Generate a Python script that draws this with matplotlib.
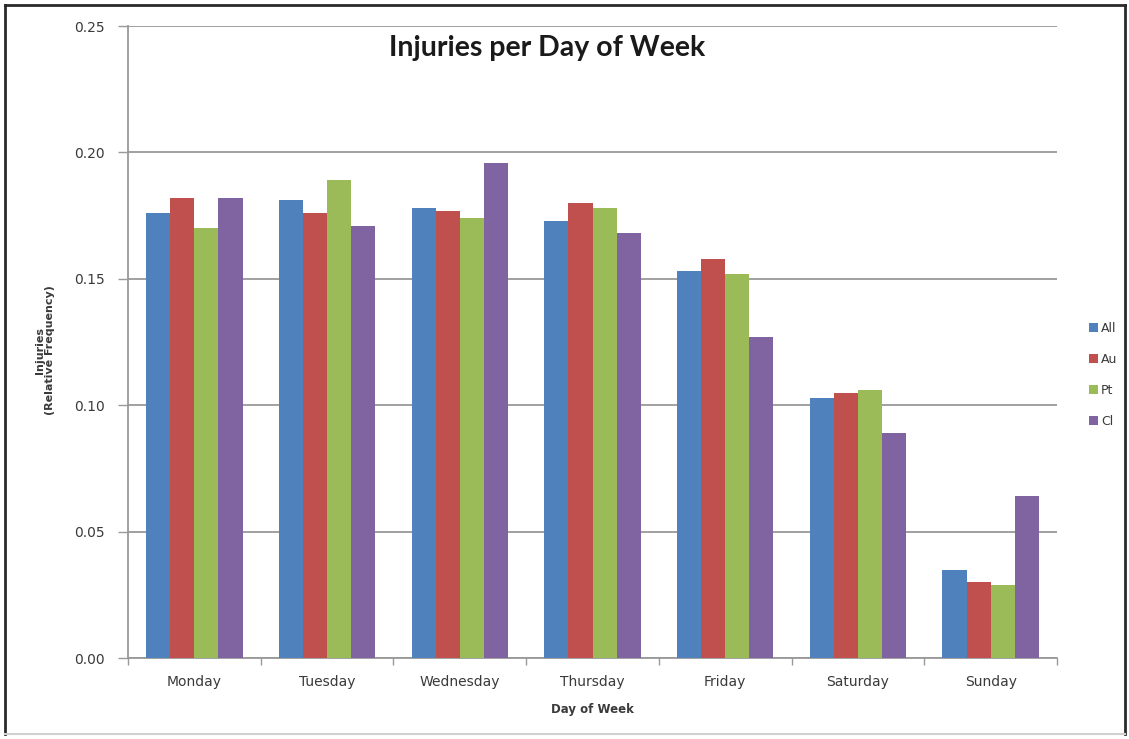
import matplotlib
matplotlib.use("Agg")
import matplotlib.pyplot as plt
from matplotlib.patches import Patch
from matplotlib.lines import Line2D
import numpy as np

# data
days = ["Monday", "Tuesday", "Wednesday", "Thursday", "Friday", "Saturday", "Sunday"]
series_names = ["All", "Au", "Pt", "Cl"]
all_vals = [0.176, 0.181, 0.178, 0.173, 0.153, 0.103, 0.035]
au_vals = [0.182, 0.176, 0.177, 0.180, 0.158, 0.105, 0.030]
pt_vals = [0.170, 0.189, 0.174, 0.178, 0.152, 0.106, 0.029]
cl_vals = [0.182, 0.171, 0.196, 0.168, 0.127, 0.089, 0.064]
yticks = [0.00, 0.05, 0.10, 0.15, 0.20, 0.25]

colors = ["#4F81BD", "#C0504D", "#9BBB59", "#8064A2"]
grid_col = "#999999"
text_col = "#3a3a3a"

W, H = 1129, 739
fig = plt.figure(figsize=(W / 100, H / 100), dpi=100)
fig.patch.set_facecolor("white")

ax = fig.add_axes([128 / W, 1 - 658 / H, (1057 - 128) / W, (658 - 26) / H])

x = np.arange(len(days))
bar_w = 1 / 5.5
for i, (name, vals) in enumerate(zip(series_names, [all_vals, au_vals, pt_vals, cl_vals])):
    offs = (i - 1.5) * bar_w
    ax.bar(x + offs, vals, width=bar_w, color=colors[i], label=name, zorder=3, linewidth=0)

ax.set_xlim(-0.5, len(days) - 0.5)
ax.set_ylim(0, 0.25)
ax.set_yticks(yticks)
ax.set_yticklabels([f"{v:.2f}" for v in yticks])
ax.yaxis.grid(True, color=grid_col, linewidth=1.3, zorder=0)
ax.set_axisbelow(True)

ax.set_xticks(x)
ax.set_xticklabels(days)
ax.set_xticks(np.arange(-0.5, len(days), 1.0), minor=True)
ax.tick_params(axis="x", which="major", length=0, pad=12, labelsize=10, labelcolor=text_col)
ax.tick_params(axis="x", which="minor", length=5, width=1, color=grid_col, direction="out")
ax.tick_params(axis="y", length=7, width=1, color=grid_col, pad=10, labelsize=10, labelcolor=text_col)

for side in ["top", "right"]:
    ax.spines[side].set_visible(False)
for side in ["left", "bottom"]:
    ax.spines[side].set_color(grid_col)
    ax.spines[side].set_linewidth(1.3)

fig.text(45 / W, 1 - 350 / H, "Injuries\n(Relative Frequency)", rotation=90,
         ha="center", va="center", fontsize=8, fontweight="bold", color=text_col,
         linespacing=1.1)
fig.text(592 / W, 1 - 709 / H, "Day of Week", ha="center", va="center",
         fontsize=8.5, fontweight="bold", color=text_col)
fig.text(547 / W, 1 - 48 / H, "Injuries per Day of Week", ha="center", va="center",
         fontsize=20.5, fontweight="bold", family="Lato", color="#1a1a1a")

handles = [Patch(facecolor=c, edgecolor="none") for c in colors]
fig.legend(handles, series_names, loc="center left", bbox_to_anchor=(1078 / W, 1 - 375 / H),
           frameon=False, fontsize=9, handlelength=0.7, handleheight=0.7,
           handletextpad=0.25, labelspacing=1.45, labelcolor=text_col)

# outer chart border
border = dict(color="#2a2a2a", linewidth=2, transform=fig.transFigure)
fig.add_artist(Line2D([5 / W, 5 / W], [1 - 5 / H, 1 - 734 / H], **border))
fig.add_artist(Line2D([5 / W, 1125 / W], [1 - 5 / H, 1 - 5 / H], **border))
fig.add_artist(Line2D([1125 / W, 1125 / W], [1 - 5 / H, 1 - 734 / H], **border))
fig.add_artist(Line2D([5 / W, 1125 / W], [1 - 734 / H, 1 - 734 / H], color="#d0d0d0",
                      linewidth=1.5, transform=fig.transFigure))

fig.savefig("out.png", dpi=100)
